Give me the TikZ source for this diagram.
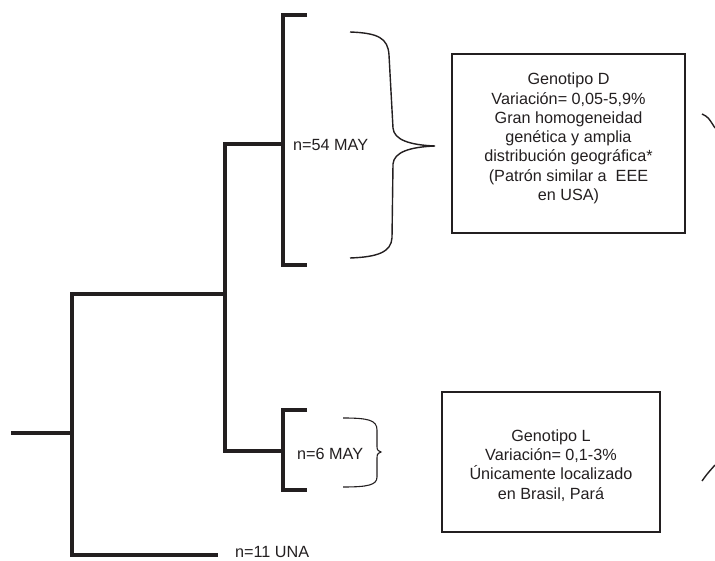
\documentclass[tikz,border=0pt]{standalone}
\usepackage{fontspec}
\setmainfont{Liberation Sans}
\definecolor{ink}{HTML}{231F20}
\begin{document}
\begin{tikzpicture}[x=1pt,y=-1pt,
  branch/.style={draw=ink, line width=3.6pt, line cap=butt, line join=miter},
  bracefig/.style={draw=ink, line width=1.4pt},
  lbl/.style={font=\fontsize{16.2}{19.3}\selectfont, text=ink, anchor=west, inner sep=0pt},
  infobox/.style={draw=ink, line width=1.2pt, inner sep=0pt},
  boxtext/.style={font=\fontsize{16.2}{19.3}\selectfont, text=ink, align=center, inner sep=0pt}]
\useasboundingbox (0,0) rectangle (715,561);
% tree coordinates
\coordinate (r0) at (11,433);
\coordinate (r1) at (72,433);
\coordinate (v1t) at (72,294);
\coordinate (v1b) at (72,555);
\coordinate (h1e) at (225,294);
\coordinate (unae) at (218,555);
\coordinate (v2t) at (225,144);
\coordinate (v2b) at (225,451);
\coordinate (dj) at (283,144);
\coordinate (lj) at (283,451);
\coordinate (dt) at (283,15);
\coordinate (db) at (283,265);
\coordinate (dte) at (307,15);
\coordinate (dbe) at (307,265);
\coordinate (lt) at (283,410);
\coordinate (lb) at (283,490);
\coordinate (lte) at (307,410);
\coordinate (lbe) at (307,490);
% tree
\draw[branch] (r0) -- (r1);
\draw[branch] (h1e) -- (v1t) -- (v1b) -- (unae);
\draw[branch] (dj) -- (v2t) -- (v2b) -- (lj);
\draw[branch] (dte) -- (dt) -- (db) -- (dbe);
\draw[branch] (lte) -- (lt) -- (lb) -- (lbe);
% labels
\node[lbl] (may54) at (293,145) {n=54 MAY};
\node[lbl] (may6) at (297,454) {n=6 MAY};
\node[lbl] (una) at (235,552.5) {n=11 UNA};
% braces
\coordinate (bDt) at (350,32);
\coordinate (bDtip) at (435,146);
\coordinate (bDb) at (350,258);
\draw[bracefig] (bDt) .. controls (378,33) and (388,38) .. (389,55)
  -- (393,128) .. controls (394,140) and (410,145) .. (bDtip)
  .. controls (410,147) and (394,152) .. (393,164)
  -- (392,238) .. controls (391,252) and (378,257) .. (bDb);
\coordinate (bLt) at (343,418);
\coordinate (bLtip) at (381,452);
\coordinate (bLb) at (343,487);
\draw[bracefig, line width=1.1pt] (bLt) .. controls (368,418) and (377,420) .. (377,430)
  -- (377,445) .. controls (377,450) .. (bLtip)
  .. controls (377,454) .. (377,460)
  -- (377,477) .. controls (377,485) and (368,487) .. (bLb);
% boxes
\node[infobox, minimum width=233pt, minimum height=179pt] (boxD) at (568.5,143.5) {};
\node[boxtext] (txtD) at (568.5,138.5) {Genotipo D\\Variación= 0,05-5,9\%\\Gran homogeneidad\\genética y amplia\\distribución geográfica*\\(Patrón similar a\ \ EEE\\en USA)};
\node[infobox, minimum width=218pt, minimum height=140pt] (boxL) at (551,462) {};
\node[boxtext] (txtL) at (551,465.5) {Genotipo L\\Variación= 0,1-3\%\\Únicamente localizado\\en Brasil, Pará};
% partial curves at the right edge
\coordinate (cTa) at (702,114);
\coordinate (cTb) at (715,128);
\coordinate (cBa) at (702,481);
\coordinate (cBb) at (715,465);
\draw[bracefig] (cTa) .. controls (708,117) .. (cTb);
\draw[bracefig] (cBa) .. controls (707,474) .. (cBb);
\end{tikzpicture}
\end{document}
